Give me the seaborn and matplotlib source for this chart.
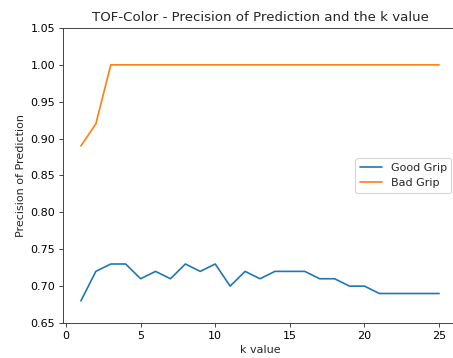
import numpy as np
import pandas as pd
import matplotlib
matplotlib.use("Agg")
import matplotlib.pyplot as plt
import seaborn as sns

# --- Data ---
k_values = list(range(1, 26))
good_grip = [0.68, 0.72, 0.73, 0.73, 0.71, 0.72, 0.71, 0.73, 0.72, 0.73,
             0.70, 0.72, 0.71, 0.72, 0.72, 0.72, 0.71, 0.71, 0.70, 0.70,
             0.69, 0.69, 0.69, 0.69, 0.69]
bad_grip = [0.89, 0.92] + [1.00] * 23

df = pd.DataFrame({
    'k': k_values * 2,
    'precision': good_grip + bad_grip,
    'grip': ['Good Grip'] * len(k_values) + ['Bad Grip'] * len(k_values),
})

sns.set_style("white")
plt.rcParams['font.family'] = ['DejaVu Sans']

DPI = 80
fig = plt.figure(figsize=(453 / DPI, 358 / DPI), dpi=DPI)
# axes run past the right edge, as in the cropped reference
ax = fig.add_axes([63 / 453, 1 - 323 / 358, 394 / 453, 295 / 358])

sns.lineplot(data=df, x='k', y='precision', hue='grip',
             palette=['#1f77b4', '#ff7f0e'], linewidth=1.5, ax=ax)

ax.set_ylim(0.65, 1.05)
ax.set_xticks([0, 5, 10, 15, 20, 25])
ax.set_yticks(np.arange(0.65, 1.051, 0.05))
ax.tick_params(axis='both', direction='out', length=3.5, width=0.8,
               colors='#333333', labelcolor='black', labelsize=10,
               bottom=True, left=True)
for s in ax.spines.values():
    s.set_color('#333333')
    s.set_linewidth(0.8)

ax.set_title("TOF-Color - Precision of Prediction and the k value", fontsize=12)
ax.set_xlabel("k value", fontsize=10)
ax.set_ylabel("Precision of Prediction", fontsize=10)
ax.legend(loc='center right', fontsize=10, frameon=True)

fig.savefig("out.png", dpi=DPI)
